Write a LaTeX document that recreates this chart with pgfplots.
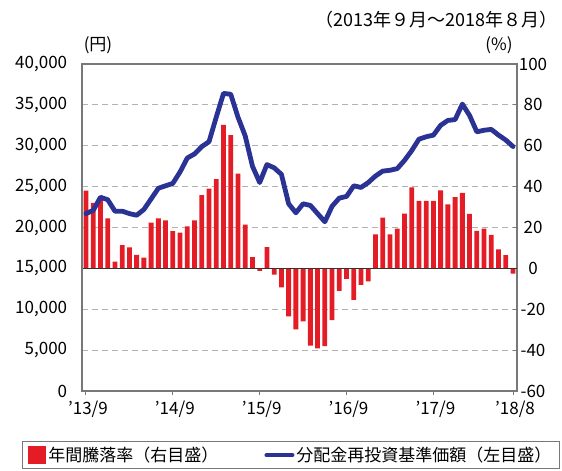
\documentclass[border=0pt]{standalone}
\usepackage{fontspec}
\setmainfont{Noto Sans CJK JP}
\usepackage{pgfplots}
\pgfplotsset{compat=1.18}
\definecolor{barred}{RGB}{228,28,38}
\definecolor{navline}{RGB}{42,50,148}
\definecolor{axgray}{RGB}{120,120,120}
\pgfplotstableread{
m v
0 38
1 32
2 33.5
3 24.5
4 3.3
5 11.4
6 10.3
7 6.6
8 5.3
9 22.4
10 24.5
11 23.5
12 18.2
13 17.5
14 20.5
15 23.5
16 35.8
17 39
18 43.7
19 70.2
20 65.2
21 46.4
22 21.4
23 5.5
24 -1.2
25 10.4
26 -3.1
27 -9.3
28 -23.5
29 -29.8
30 -25.9
31 -37.8
32 -39.2
33 -38
34 -25.3
35 -11
36 -5.1
37 -15.4
38 -8.1
39 -6.3
40 16.6
41 24.8
42 16.6
43 19.5
44 26.8
45 39.6
46 33
47 33
48 33
49 38.2
50 31.3
51 34.9
52 36.9
53 26.7
54 18.4
55 19.5
56 16.4
57 9.3
58 6.5
59 -2.6
}\bars
\pgfplotstableread{
m v
0 21700
1 22100
2 23700
3 23400
4 22000
5 22000
6 21700
7 21500
8 22200
9 23500
10 24800
11 25100
12 25400
13 26800
14 28500
15 29000
16 29900
17 30500
18 33500
19 36400
20 36300
21 33500
22 31200
23 27500
24 25500
25 27700
26 27300
27 26500
28 22900
29 21800
30 22900
31 22700
32 21700
33 20700
34 22600
35 23600
36 23800
37 25100
38 24900
39 25500
40 26300
41 26900
42 27000
43 27200
44 28200
45 29400
46 30800
47 31100
48 31300
49 32500
50 33100
51 33200
52 35100
53 33700
54 31700
55 31900
56 32000
57 31300
58 30700
59 29900
}\nav
\begin{document}
\fontsize{17}{20}\selectfont
\begin{tikzpicture}
\path[use as bounding box] (-82pt,-80pt) rectangle (480pt,391pt);
\begin{axis}[
  scale only axis, width=435pt, height=327pt,
  xmin=-0.55, xmax=59.55,
  ymin=-60, ymax=100,
  ytick={-60,-40,-20,0,20,40,60,80,100},
  ytick pos=right,
  xtick={0,12,24,36,48,59},
  xticklabels={'13/9,'14/9,'15/9,'16/9,'17/9,'18/8},
  xtick pos=bottom,
  tick align=inside,
  major tick length=4pt,
  tick style={axgray, line width=1pt},
  axis line style={axgray, line width=1.5pt},
  ymajorgrids,
  grid style={gray!60, dash pattern=on 6pt off 4pt, line width=0.9pt},
  /pgf/number format/assume math mode=true,
  tick label style={font=\fontsize{17}{20}\selectfont},
  xticklabel style={xshift=2pt},
  yticklabel style={anchor=center, xshift=16pt},
  ybar, bar width=4.8pt,
  clip=false,
]
\addplot[fill=barred, draw=none] table[x=m, y=v] {\bars};
\draw[black!80, line width=1.2pt] (axis cs:-0.55,0) -- (axis cs:59.55,0);
\end{axis}
\begin{axis}[
  scale only axis, width=435pt, height=327pt,
  xmin=-0.55, xmax=59.55,
  ymin=0, ymax=40000,
  ytick={0,5000,...,40000},
  hide x axis,
  axis y line*=left,
  ytick pos=left,
  tick align=inside,
  major tick length=0pt,
  axis line style={axgray, line width=1.5pt},
  scaled y ticks=false,
  /pgf/number format/.cd, 1000 sep={,}, assume math mode=true,
  /pgfplots/.cd,
  tick label style={font=\fontsize{17}{20}\selectfont},
  yticklabel style={xshift=-9pt},
  legend style={at={(-0.138,-0.153)}, anchor=north west, draw=axgray, line width=1pt,
    font=\fontsize{17}{20}\selectfont, inner xsep=6pt, inner ysep=3pt},
  legend columns=2,
  legend cell align=left,
  /tikz/every even column/.append style={column sep=44pt},
]
\addlegendimage{legend image code/.code={\fill[barred] (0pt,-8.5pt) rectangle (17pt,8.5pt);}}
\addlegendentry{年間騰落率（右目盛）}
\addplot[navline, line width=4.8pt, line join=round, line cap=round,
  legend image code/.code={\draw[navline, line width=4pt] (0pt,0pt) -- (26pt,0pt);}]
  table[x=m, y=v] {\nav};
\addlegendentry{分配金再投資基準価額（左目盛）}
\end{axis}
\node[anchor=center] at (16pt,346pt) {(円)};
\node[anchor=center] at (417pt,346pt) {(\%)};
\node[anchor=east, inner sep=0pt, font=\fontsize{18}{20}\selectfont] at (476pt,371pt) {（2013年９月～2018年８月）};
\end{tikzpicture}
\end{document}
